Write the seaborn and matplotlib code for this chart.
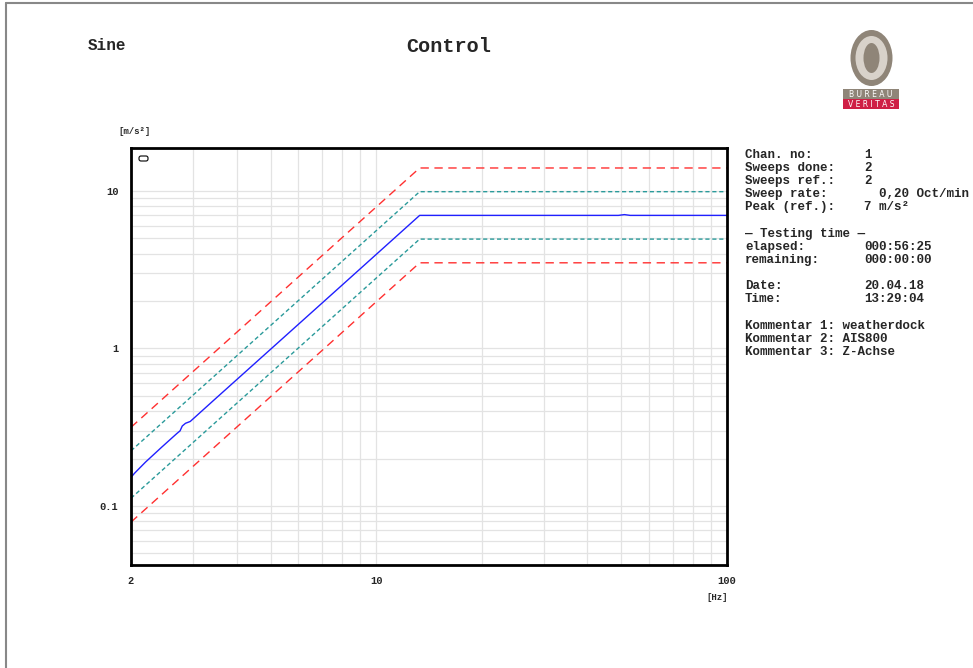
import numpy as np
import pandas as pd
import matplotlib
matplotlib.use("Agg")
import matplotlib.pyplot as plt
import seaborn as sns
from matplotlib.patches import FancyBboxPatch, Ellipse, Rectangle
from matplotlib.ticker import LogLocator, NullFormatter, FixedLocator, FixedFormatter

# ---------------- data ----------------
ref_f = [2.0, 13.3, 100.0]
ref_a = [0.158, 7.0, 7.0]
abort_hi_a = [0.316, 14.0, 14.0]
abort_lo_a = [0.079, 3.5, 3.5]
alarm_hi_a = [0.224, 9.9, 9.9]
alarm_lo_a = [0.112, 4.95, 4.95]

meas_f = [2.0, 2.05, 2.2, 2.45, 2.7, 2.76, 2.80, 2.86, 2.95, 3.5, 5.0, 8.0, 13.3,
          30.0, 49.0, 51.0, 53.0, 70.0, 100.0]
meas_a = [0.152, 0.162, 0.190, 0.237, 0.288, 0.300, 0.322, 0.335, 0.344, 0.485,
          0.989, 2.53, 7.0, 7.0, 7.0, 7.08, 7.0, 7.0, 7.0]

x_ticks = [2, 10, 100]
x_ticklabels = ["2", "10", "100"]
y_ticks = [0.1, 1, 10]
y_ticklabels = ["0.1", "1", "10"]

info_labels = ["Chan. no:", "Sweeps done:", "Sweeps ref.:", "Sweep rate:", "Peak (ref.):"]
info_values = ["1", "2", "2", "  0,20 Oct/min", "7 m/s\u00b2"]
time_labels = ["elapsed:", "remaining:"]
time_values = ["000:56:25", "000:00:00"]
date_labels = ["Date:", "Time:"]
date_values = ["20.04.18", "13:29:04"]
comments = ["Kommentar 1: weatherdock", "Kommentar 2: AIS800", "Kommentar 3: Z-Achse"]

# ---------------- style ----------------
sns.set_style("white")
plt.rcParams["font.family"] = ["Liberation Mono", "DejaVu Sans Mono"]
plt.rcParams["font.weight"] = "bold"

W, H = 973, 668
fig = plt.figure(figsize=(W / 100, H / 100), dpi=100)
fig.patch.set_facecolor("white")

def fx(px):
    return px / W

def fy(py):
    return 1 - py / H

ax = fig.add_axes([fx(131), fy(565), fx(727) - fx(131), fy(148) - fy(565)])

ref_df = pd.DataFrame({"f": ref_f, "ref": ref_a, "abhi": abort_hi_a, "ablo": abort_lo_a,
                       "alhi": alarm_hi_a, "allo": alarm_lo_a})
meas_df = pd.DataFrame({"f": meas_f, "a": meas_a})

red = "#ff3030"
teal = "#2a9a9a"
blue = "#2020ff"

for col in ["abhi", "ablo"]:
    sns.lineplot(data=ref_df, x="f", y=col, ax=ax, color=red, lw=1.0,
                 dashes=False, linestyle=(0, (6, 4)), estimator=None, sort=False)
for col in ["alhi", "allo"]:
    sns.lineplot(data=ref_df, x="f", y=col, ax=ax, color=teal, lw=1.0,
                 dashes=False, linestyle=(0, (3, 2)), estimator=None, sort=False)
sns.lineplot(data=meas_df, x="f", y="a", ax=ax, color=blue, lw=1.0,
             estimator=None, sort=False)

ax.set_xscale("log")
ax.set_yscale("log")
ax.set_xlim(2, 100)
ax.set_ylim(0.0422, 18.75)

ax.xaxis.set_major_locator(FixedLocator(x_ticks))
ax.xaxis.set_major_formatter(FixedFormatter(x_ticklabels))
ax.xaxis.set_minor_locator(LogLocator(base=10, subs=np.arange(2, 10)))
ax.xaxis.set_minor_formatter(NullFormatter())
ax.yaxis.set_major_locator(FixedLocator(y_ticks))
ax.yaxis.set_major_formatter(FixedFormatter(y_ticklabels))
ax.yaxis.set_minor_locator(LogLocator(base=10, subs=np.arange(2, 10)))
ax.yaxis.set_minor_formatter(NullFormatter())

ax.grid(True, which="both", color="#e3e3e3", lw=0.9)
ax.set_axisbelow(True)
ax.set_xlabel("")
ax.set_ylabel("")
for s in ax.spines.values():
    s.set_color("black")
    s.set_linewidth(2.0)
ax.tick_params(which="both", direction="out", length=3, width=0.8, color="black",
               labelsize=7.5)
ax.tick_params(axis="x", which="both", pad=5)
ax.tick_params(axis="y", which="both", pad=6)
for lab in ax.get_xticklabels() + ax.get_yticklabels():
    lab.set_fontweight("bold")

# legend box (pixel coordinates)
fig.add_artist(FancyBboxPatch((139, H - 161), 9, 5, transform=None,
                              boxstyle="round,pad=0.0,rounding_size=2",
                              fc="white", ec="black", lw=0.8))

# unit labels
fig.text(fx(118), fy(131), "[m/s\u00b2]", fontsize=6.5, weight="bold", va="center", ha="left")
fig.text(fx(706), fy(597), "[Hz]", fontsize=6.5, weight="bold", va="center", ha="left")

# title texts
fig.text(fx(88), fy(46), "Sine", fontsize=11.5, weight="bold", va="center", ha="left")
fig.text(fx(449), fy(46), "Control", fontsize=14.5, weight="bold", va="center", ha="center")

# right info panel
fs = 9
y0 = 155
dy = 12.9
for i, (l, v) in enumerate(zip(info_labels, info_values)):
    fig.text(fx(745), fy(y0 + i * dy), l, fontsize=fs, weight="bold", va="center")
    fig.text(fx(864), fy(y0 + i * dy), v, fontsize=fs, weight="bold", va="center")
fig.text(fx(745), fy(234), "\u2014 Testing time \u2014", fontsize=fs, weight="bold", va="center")
for i, (l, v) in enumerate(zip(time_labels, time_values)):
    fig.text(fx(745), fy(247 + i * dy), l, fontsize=fs, weight="bold", va="center")
    fig.text(fx(864), fy(247 + i * dy), v, fontsize=fs, weight="bold", va="center")
for i, (l, v) in enumerate(zip(date_labels, date_values)):
    fig.text(fx(745), fy(286 + i * dy), l, fontsize=fs, weight="bold", va="center")
    fig.text(fx(864), fy(286 + i * dy), v, fontsize=fs, weight="bold", va="center")
for i, c in enumerate(comments):
    fig.text(fx(745), fy(326 + i * dy), c, fontsize=fs, weight="bold", va="center")

# page frame
fig.add_artist(plt.Line2D([fx(6), fx(6)], [fy(3), 0], color="#888888", lw=1.5, transform=fig.transFigure))
fig.add_artist(plt.Line2D([fx(6), 1], [fy(3), fy(3)], color="#888888", lw=1.5, transform=fig.transFigure))

# logo
lax = fig.add_axes([fx(838), fy(112), fx(904) - fx(838), fy(28) - fy(112)])
lax.set_xlim(838, 904)
lax.set_ylim(112, 28)
lax.axis("off")
gray = "#8f8578"
lax.add_patch(Ellipse((871.5, 58), 42, 56, fc=gray, ec="none"))
lax.add_patch(Ellipse((871.5, 58), 32, 44, fc="#d8d2ca", ec="none"))
lax.add_patch(Ellipse((871.5, 58), 16, 30, fc=gray, ec="none"))
lax.add_patch(Rectangle((843, 89), 56, 10, fc=gray, ec="none"))
lax.add_patch(Rectangle((843, 99), 56, 10, fc="#cf1f45", ec="none"))
lax.text(871, 94.3, "B U R E A U", color="white", fontsize=5.5, ha="center", va="center",
         family="DejaVu Sans", weight="normal")
lax.text(871, 104.3, "V E R I T A S", color="white", fontsize=5.5, ha="center", va="center",
         family="DejaVu Sans", weight="normal")

fig.savefig("out.png", dpi=100)
